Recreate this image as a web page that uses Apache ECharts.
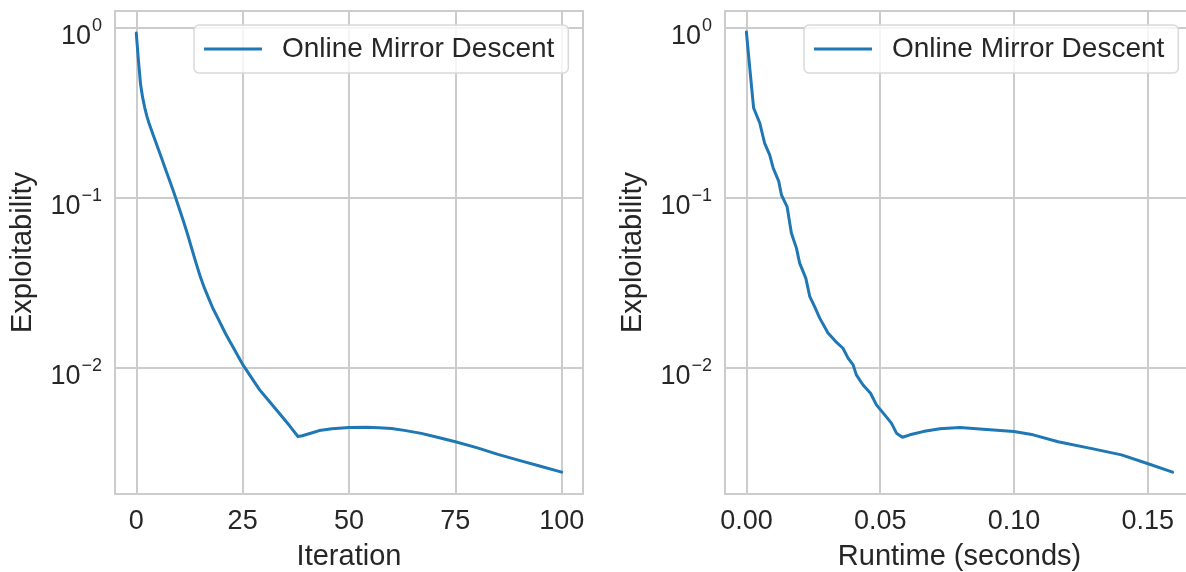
<!DOCTYPE html>
<html>
<head>
<meta charset="utf-8">
<script src="https://cdn.jsdelivr.net/npm/echarts@6/dist/echarts.min.js"></script>
<style>
  html, body { margin: 0; padding: 0; background: #fff; }
  #chart { width: 1186px; height: 572px; }
</style>
</head>
<body>
<div id="chart"></div>
<script>
// exploitability per iteration (left panel)
const iterX = [0, 0.5, 1, 1.5, 2, 2.5, 3, 4, 5, 6, 7, 8, 9, 10, 11, 12, 13, 14, 15, 16, 17, 18, 19, 20,
    21, 22, 23, 24, 25, 27, 29, 31, 34, 36, 38, 39, 41, 43, 46, 50, 54, 57, 60, 63, 67, 71, 75, 80, 85, 90, 95, 100]
const iterY = [0.933, 0.646, 0.468, 0.389, 0.339, 0.302, 0.275, 0.234, 0.1995, 0.170, 0.1445, 0.123, 0.1047,
    0.0881, 0.0741, 0.0617, 0.0507, 0.0417, 0.0347, 0.0295, 0.0257, 0.0224, 0.0200, 0.0178, 0.01585, 0.01429,
    0.01288, 0.01161, 0.01047, 0.00881, 0.00741, 0.00646, 0.00525, 0.00457, 0.00394, 0.00398, 0.00412, 0.00427,
    0.00438, 0.00445, 0.00447, 0.00444, 0.00439, 0.00428, 0.00411, 0.00389, 0.00367, 0.00339, 0.00309, 0.00285,
    0.00263, 0.00243]

// exploitability against runtime (right panel)
const timeX = [0, 0.0012, 0.0027, 0.005, 0.0068, 0.0087, 0.0100, 0.0121, 0.0131, 0.0152, 0.0168, 0.0187,
    0.0199, 0.0222, 0.0237, 0.0255, 0.0274, 0.0305, 0.0334, 0.0361, 0.0380, 0.0399, 0.0411, 0.0436,
    0.0464, 0.0486, 0.0517, 0.0542, 0.0561, 0.0583, 0.0611, 0.0660, 0.0723, 0.0798, 0.0885, 0.1000,
    0.1072, 0.1165, 0.1296, 0.1402, 0.1496, 0.1593]
const timeY = [0.946, 0.594, 0.338, 0.276, 0.210, 0.179, 0.150, 0.125, 0.104, 0.0889, 0.0621, 0.0506,
    0.0413, 0.0337, 0.0262, 0.0229, 0.0196, 0.0160, 0.01426, 0.01303, 0.0114, 0.0104, 0.00908, 0.00792,
    0.00708, 0.00605, 0.00528, 0.00472, 0.00412, 0.00390, 0.00403, 0.00421, 0.00437, 0.00445, 0.00435, 0.00421,
    0.00403, 0.00367, 0.00333, 0.00307, 0.00274, 0.00243]

const iterTicks = [0, 25, 50, 75, 100]
const timeTicks = [0, 0.05, 0.10, 0.15]

const seriesName = 'Online Mirror Descent'
const textColor = '#262626'
const gridColor = '#cccccc'
const font = 'Liberation Sans, Arial, sans-serif'

const chart = echarts.init(document.getElementById('chart'))

// 10^k labels with a raised exponent
function powLabel(v) {
    const k = Math.round(Math.log10(v))
    const e = k < 0 ? '\u2212' + (-k) : String(k)
    return '{b|10}{e|' + e + '}'
}

function xAxisFor(gridIndex, min, max, ticks, name, fmt) {
    return {
        type: 'value',
        gridIndex: gridIndex,
        min: min,
        max: max,
        name: name,
        nameLocation: 'middle',
        nameGap: 48,
        nameTextStyle: { color: textColor, fontSize: 29, fontFamily: font },
        axisLine: { show: false },
        axisTick: { show: false, customValues: ticks },
        axisLabel: {
            customValues: ticks,
            color: textColor,
            fontSize: 27,
            fontFamily: font,
            margin: 14,
            formatter: fmt
        },
        splitLine: { show: true, lineStyle: { color: gridColor, width: 2 } }
    }
}

function yAxisFor(gridIndex) {
    return {
        type: 'log',
        logBase: 10,
        gridIndex: gridIndex,
        min: Math.pow(10, -2.743),
        max: Math.pow(10, 0.1),
        name: 'Exploitability',
        nameLocation: 'middle',
        nameGap: 78,
        nameTextStyle: { color: textColor, fontSize: 29, fontFamily: font },
        axisLine: { show: false },
        axisTick: { show: false },
        axisLabel: {
            showMinLabel: false,
            showMaxLabel: false,
            margin: 13,
            formatter: powLabel,
            rich: {
                b: { color: textColor, fontSize: 27, lineHeight: 27, fontFamily: font, padding: [17, 0, 0, 0] },
                e: { color: textColor, fontSize: 18, lineHeight: 18, fontFamily: font, verticalAlign: 'top', padding: [3, 0, 0, 1] }
            }
        },
        splitLine: { show: true, lineStyle: { color: gridColor, width: 2 } }
    }
}

function legendAt(left) {
    return {
        left: left,
        top: 25,
        orient: 'vertical',
        icon: 'rect',
        itemWidth: 58,
        itemHeight: 3,
        padding: [10, 14, 10, 10],
        backgroundColor: 'rgba(255,255,255,0.8)',
        borderColor: '#d9d9d9',
        borderWidth: 1.5,
        borderRadius: 5,
        textStyle: { color: textColor, fontSize: 28, fontFamily: font, padding: [0, 0, 0, 15] },
        data: [seriesName]
    }
}

function lineSeries(axisIndex, xs, ys) {
    return {
        name: seriesName,
        type: 'line',
        xAxisIndex: axisIndex,
        yAxisIndex: axisIndex,
        data: xs.map((x, i) => [x, ys[i]]),
        showSymbol: false,
        symbol: 'none',
        color: '#1f77b4',
        lineStyle: { color: '#1f77b4', width: 3, join: 'round', cap: 'round' }
    }
}

chart.setOption({
    animation: false,
    grid: [
        { left: 115, top: 11, width: 468, height: 483, show: true, borderColor: gridColor, borderWidth: 2, outerBoundsMode: 'none' },
        { left: 725, top: 11, right: -8, height: 483, show: true, borderColor: gridColor, borderWidth: 2, outerBoundsMode: 'none' }
    ],
    legend: [legendAt(194), legendAt(804)],
    xAxis: [
        xAxisFor(0, -5, 105, iterTicks, 'Iteration', v => String(v)),
        xAxisFor(1, -0.008, 0.1673, timeTicks, 'Runtime (seconds)', v => v.toFixed(2))
    ],
    yAxis: [yAxisFor(0), yAxisFor(1)],
    series: [
        lineSeries(0, iterX, iterY),
        lineSeries(1, timeX, timeY)
    ]
})
</script>
</body>
</html>
